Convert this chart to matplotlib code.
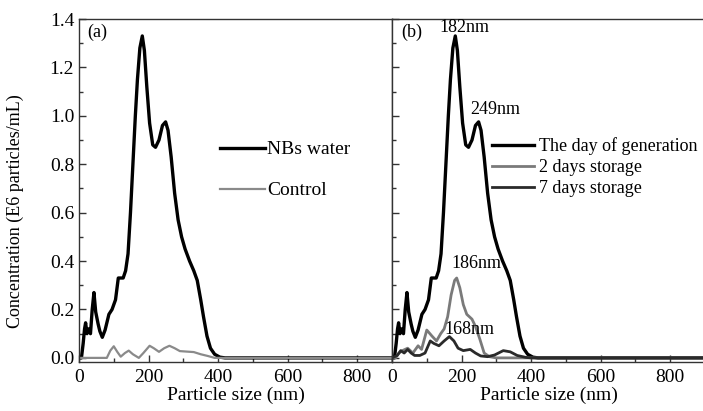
import matplotlib
matplotlib.use("Agg")
import matplotlib.pyplot as plt
from matplotlib.ticker import MultipleLocator

plt.rcParams['font.family'] = ['Liberation Serif', 'DejaVu Serif']

# NBs water / the day of generation (same curve in both panels)
gen_x = [0, 7, 12, 16, 19, 23, 28, 33, 38, 43, 48, 55, 60, 67, 75, 86, 95, 105, 113, 120, 127,
         134, 141, 148, 155, 162, 168, 175, 182, 188, 195, 203, 212, 220, 230, 240, 249, 256,
         265, 275, 285, 295, 305, 318, 330, 340, 350, 358, 368, 378, 390, 405, 420, 900]
gen_y = [0, 0, 0.06, 0.12, 0.145, 0.10, 0.12, 0.10, 0.20, 0.27, 0.19, 0.14, 0.11, 0.085, 0.115,
         0.18, 0.20, 0.24, 0.33, 0.33, 0.33, 0.36, 0.43, 0.60, 0.80, 1.00, 1.15, 1.28, 1.33,
         1.27, 1.12, 0.97, 0.88, 0.87, 0.90, 0.96, 0.975, 0.94, 0.83, 0.68, 0.57, 0.50, 0.45,
         0.40, 0.36, 0.32, 0.24, 0.17, 0.09, 0.04, 0.015, 0.003, 0, 0]

# Control
ctrl_x = [0, 80, 90, 100, 110, 120, 132, 143, 155, 172, 185, 203, 215, 230, 245, 260, 275,
          290, 310, 330, 350, 370, 390, 900]
ctrl_y = [0, 0, 0.03, 0.048, 0.025, 0.005, 0.02, 0.03, 0.015, 0.0, 0.02, 0.05, 0.04, 0.025,
          0.04, 0.05, 0.04, 0.028, 0.026, 0.024, 0.015, 0.008, 0.0, 0]

# 2 days storage
d2_x = [0, 10, 20, 30, 45, 60, 75, 85, 100, 115, 128, 140, 150, 160, 170, 180, 186, 195, 205,
        215, 230, 240, 252, 265, 280, 300, 900]
d2_y = [0, 0, 0.02, 0.03, 0.04, 0.02, 0.05, 0.035, 0.115, 0.09, 0.07, 0.10, 0.12, 0.17, 0.26,
        0.32, 0.33, 0.29, 0.22, 0.18, 0.16, 0.13, 0.08, 0.02, 0.005, 0, 0]

# 7 days storage
d7_x = [0, 15, 25, 35, 45, 55, 65, 80, 95, 110, 120, 135, 150, 165, 178, 190, 205, 225, 240,
        255, 275, 295, 320, 340, 360, 385, 400, 900]
d7_y = [0, 0.01, 0.03, 0.02, 0.035, 0.02, 0.01, 0.01, 0.02, 0.07, 0.06, 0.05, 0.07, 0.088,
        0.07, 0.04, 0.03, 0.035, 0.02, 0.008, 0.005, 0.012, 0.03, 0.025, 0.01, 0.002, 0, 0]

peak_labels = ["182nm", "249nm", "186nm", "168nm"]
peak_pos = [(209, 1.364), (296, 1.025), (244, 0.39), (223, 0.116)]

xticks = [0, 200, 400, 600, 800]
yticks = [0.0, 0.2, 0.4, 0.6, 0.8, 1.0, 1.2, 1.4]

W, H = 703, 411
fig = plt.figure(figsize=(W / 100, H / 100), dpi=100)
left, right_a, top, bottom = 79, 392, 19, 362
ax_a = fig.add_axes([left / W, 1 - bottom / H, (right_a - left) / W, (bottom - top) / H])
ax_b = fig.add_axes([right_a / W, 1 - bottom / H, (right_a - left) / W, (bottom - top) / H])

FS = 14
spine_c = '#333333'
for ax in (ax_a, ax_b):
    ax.set_xlim(0, 900)
    ax.set_ylim(-0.017, 1.4)
    ax.set_xticks(xticks)
    ax.xaxis.set_minor_locator(MultipleLocator(100))
    ax.set_yticks(yticks)
    ax.yaxis.set_minor_locator(MultipleLocator(0.1))
    ax.tick_params(which='both', direction='in', top=False, right=False, labelsize=FS,
                   color=spine_c)
    ax.tick_params(which='major', length=5, width=1)
    ax.tick_params(which='minor', length=3, width=1)
    ax.tick_params(axis='x', which='major', pad=5)
    for s in ax.spines.values():
        s.set_color(spine_c)
        s.set_linewidth(1.0)
    ax.set_xlabel("Particle size (nm)", fontsize=FS, labelpad=0.5)

ax_a.set_yticklabels([f"{v:.1f}" for v in yticks])
ax_b.set_yticklabels([])
ax_a.set_ylabel("Concentration (E6 particles/mL)", fontsize=13)
ax_a.yaxis.set_label_coords(-0.175, 0.44)

# panel (a)
ax_a.plot(gen_x, gen_y, color='black', lw=2.4, label='NBs water', solid_joinstyle='round')
ax_a.plot(ctrl_x, ctrl_y, color='#8a8a8a', lw=1.6, label='Control')
ax_a.text(0.027, 0.985, "(a)", transform=ax_a.transAxes, fontsize=13, va='top', ha='left')
ax_a.legend(loc='upper left', bbox_to_anchor=(0.45, 0.645), frameon=False, fontsize=FS,
            handlelength=2.3, handletextpad=0.15, labelspacing=1.2, borderpad=0,
            borderaxespad=0)

# panel (b)
ax_b.plot(gen_x, gen_y, color='black', lw=2.4, label='The day of generation',
          solid_joinstyle='round')
ax_b.plot(d2_x, d2_y, color='#7a7a7a', lw=2.0, label='2 days storage')
ax_b.plot(d7_x, d7_y, color='#2a2a2a', lw=2.0, label='7 days storage')
ax_b.text(0.03, 0.985, "(b)", transform=ax_b.transAxes, fontsize=13, va='top', ha='left')
ax_b.legend(loc='upper left', bbox_to_anchor=(0.318, 0.655), frameon=False, fontsize=13,
            handlelength=2.35, handletextpad=0.3, labelspacing=0.22, borderpad=0,
            borderaxespad=0)
for lab, (px, py) in zip(peak_labels, peak_pos):
    ax_b.text(px, py, lab, fontsize=13, ha='center', va='center')

fig.savefig("out.png", dpi=100)
